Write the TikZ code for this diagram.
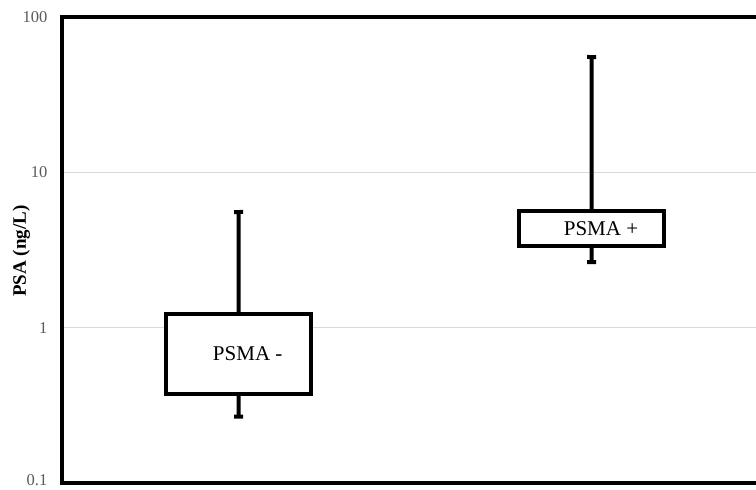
\documentclass[tikz,border=0pt]{standalone}
\usepackage{fontspec}
\setmainfont{Liberation Serif}
\usetikzlibrary{arrows.meta}
\definecolor{gridgray}{HTML}{D9D9D9}
\definecolor{ticklabel}{HTML}{595959}
\begin{document}
\begin{tikzpicture}[x=1pt, y=-1pt,
    boxplot/.style ={draw, line width=4pt, fill=white, inner sep=0pt},
    whisker/.style ={line width=4pt, -{Rectangle[length=4pt, width=9pt]}},
    ticklab/.style ={text=ticklabel, font=\fontsize{16.5}{16.5}\selectfont, anchor=east, inner sep=0pt}]
   \useasboundingbox (0,0) rectangle (756,490);

   % grid lines
   \draw[gridgray, line width=1pt] (62,172.3) -- (756,172.3);
   \draw[gridgray, line width=1pt] (62,327.7) -- (756,327.7);

   % frame
   \draw[line width=4pt, line cap=rect] (756,17) -- (62,17) -- (62,482.6) -- (756,482.6);

   % tick labels
   \node[ticklab] (t100) at (47.5,17)    {100};
   \node[ticklab] (t10)  at (47.5,172.3) {10};
   \node[ticklab] (t1)   at (47.5,327.7) {1};
   \node[ticklab] (t01)  at (47.5,480.5) {0.1};

   \node[rotate=90, font=\bfseries\fontsize{19}{19}\selectfont] (ylab) at (21.5,251) {PSA (ng/L)};

   % whisker ends
   \coordinate (negtop) at (238.5,210);
   \coordinate (negbot) at (238.5,418.7);
   \coordinate (postop) at (591.6,55);
   \coordinate (posbot) at (591.6,264.2);

   % boxes
   \node[boxplot, minimum width=144.5pt, minimum height=80pt] (negbox) at (238.7,354) {};
   \node[boxplot, minimum width=145pt, minimum height=35pt] (posbox) at (591.5,228.5) {};

   \draw[whisker] (negbox.north) to (negtop);
   \draw[whisker] (negbox.south) to (negbot);
   \draw[whisker] (posbox.north) to (postop);
   \draw[whisker] (posbox.south) to (posbot);

   \node[font=\fontsize{21}{21}\selectfont] (neglab) at ([xshift=9pt]negbox.center) {PSMA -};
   \node[font=\fontsize{21}{21}\selectfont] (poslab) at ([xshift=9.5pt]posbox.center) {PSMA +};

 \end{tikzpicture}
\end{document}
